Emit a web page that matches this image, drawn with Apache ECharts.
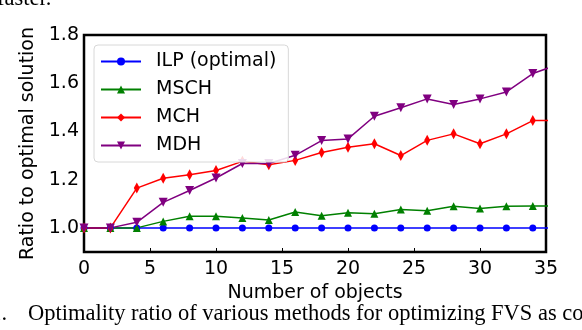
<!DOCTYPE html>
<html lang="en">
<head>
    <meta charset="UTF-8">
    <title>ratio chart</title>
    <script src="https://cdn.jsdelivr.net/npm/echarts@6/dist/echarts.min.js" type="text/javascript"></script>
    <style>
        html, body { margin: 0; padding: 0; background: #fff; }
    </style>
</head>
<body>
<div id="main" style="width: 582px; height: 330px;"></div>
<script>
    // number of objects (last point sits past the axis end and gets clipped)
    var objects = [0, 2, 4, 6, 8, 10, 12, 14, 16, 18, 20, 22, 24, 26, 28, 30, 32, 34, 36];
    var ilp  = [1.0, 1.0, 1.0, 1.0, 1.0, 1.0, 1.0, 1.0, 1.0, 1.0, 1.0, 1.0, 1.0, 1.0, 1.0, 1.0, 1.0, 1.0, 1.0];
    var msch = [1.0, 1.0, 1.0, 1.027, 1.048, 1.048, 1.041, 1.033, 1.066, 1.050, 1.063, 1.059, 1.076, 1.071, 1.090, 1.080, 1.090, 1.091, 1.091];
    var mch  = [1.0, 1.0, 1.165, 1.206, 1.220, 1.238, 1.276, 1.262, 1.280, 1.313, 1.334, 1.349, 1.300, 1.363, 1.390, 1.349, 1.390, 1.445, 1.445];
    var mdh  = [1.0, 1.0, 1.023, 1.106, 1.155, 1.207, 1.267, 1.267, 1.301, 1.362, 1.369, 1.463, 1.498, 1.535, 1.512, 1.535, 1.564, 1.640, 1.679];

    var seriesNames = ['ILP (optimal)', 'MSCH', 'MCH', 'MDH'];
    var yTicks = ['1.0', '1.2', '1.4', '1.6', '1.8'];

    function pairs(vals) {
        return objects.map(function (x, i) { return [x, vals[i]]; });
    }

    var font = 'DejaVu Sans';
    var fs = 19;
    var serif = '22.5px "Liberation Serif"';
    var myChart = echarts.init(document.getElementById('main'), null, {renderer: 'canvas'});

    var option = {
        animation: false,
        backgroundColor: '#fff',
        grid: {
            left: 84, right: 36, top: 35, bottom: 78,
            show: true, borderColor: '#000', borderWidth: 2.5
        },
        legend: {
            orient: 'vertical',
            left: 94, top: 45,
            padding: [7, 12, 7, 6],
            itemGap: 9,
            itemWidth: 40,
            itemHeight: 10,
            borderColor: '#d8d8d8',
            borderWidth: 1,
            borderRadius: 4,
            backgroundColor: 'rgba(255,255,255,0.85)',
            textStyle: {fontFamily: font, fontSize: fs, color: '#000', padding: [0, 0, 0, 10]},
            data: seriesNames
        },
        xAxis: {
            type: 'value',
            min: 0, max: 35, interval: 5,
            name: 'Number of objects',
            nameLocation: 'middle',
            nameGap: 32,
            nameTextStyle: {fontFamily: font, fontSize: fs, color: '#000'},
            axisLine: {show: false},
            axisTick: {show: true, inside: true, length: 4, lineStyle: {color: '#000'}},
            splitLine: {show: false},
            axisLabel: {fontFamily: font, fontSize: fs, color: '#000', margin: 8}
        },
        yAxis: {
            type: 'value',
            min: 0.9, max: 1.8, interval: 0.1,
            name: 'Ratio to optimal solution',
            nameLocation: 'middle',
            nameGap: 40,
            nameTextStyle: {fontFamily: font, fontSize: fs, color: '#000'},
            axisLine: {show: false},
            axisTick: {show: false},
            splitLine: {show: false},
            axisLabel: {
                fontFamily: font, fontSize: fs, color: '#000', margin: 5,
                formatter: function (v) {
                    var s = v.toFixed(1);
                    return yTicks.indexOf(s) >= 0 ? s : '';
                }
            }
        },
        series: [
            {
                name: seriesNames[0], type: 'line', data: pairs(ilp), clip: true,
                symbol: 'circle', symbolSize: 7, showAllSymbol: true,
                itemStyle: {color: '#0000ff'}, lineStyle: {color: '#0000ff', width: 1.5}
            },
            {
                name: seriesNames[1], type: 'line', data: pairs(msch), clip: true,
                symbol: 'triangle', symbolSize: 8, showAllSymbol: true,
                itemStyle: {color: '#008000'}, lineStyle: {color: '#008000', width: 1.5}
            },
            {
                name: seriesNames[2], type: 'line', data: pairs(mch), clip: true,
                symbol: 'diamond', symbolSize: [6, 11], showAllSymbol: true,
                itemStyle: {color: '#ff0000'}, lineStyle: {color: '#ff0000', width: 1.5}
            },
            {
                name: seriesNames[3], type: 'line', data: pairs(mdh), clip: true,
                symbol: 'path://M0,0 L10,0 L5,9 Z', symbolSize: 9, showAllSymbol: true,
                itemStyle: {color: '#800080'}, lineStyle: {color: '#800080', width: 1.5}
            }
        ],
        graphic: [
            {
                type: 'text', left: -3, top: -12,
                style: {text: 'faster.', font: serif, fill: '#000'}
            },
            {
                type: 'text', left: -51, top: 303,
                style: {text: 'Fig. 1.', font: serif, fill: '#000'}
            },
            {
                type: 'text', left: 28, top: 303,
                style: {text: 'Optimality ratio of various methods for optimizing FVS as compared', font: serif, fill: '#000'}
            }
        ]
    };
    myChart.setOption(option);
</script>
</body>
</html>
